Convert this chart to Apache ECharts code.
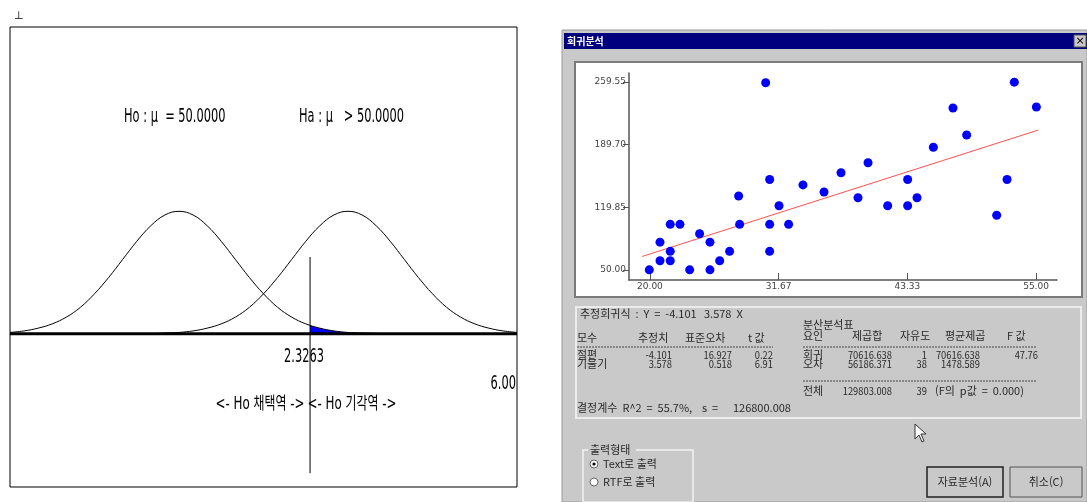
<!DOCTYPE html>
<html lang="ko">
<head>
<meta charset="UTF-8">
<title>검정 및 회귀분석</title>
<script src="https://cdn.jsdelivr.net/npm/echarts@6/dist/echarts.min.js"></script>
<style>
  html, body { margin: 0; padding: 0; background: #fff; }
  #main { width: 1087px; height: 502px; }
</style>
</head>
<body>
<div id="main"></div>
<script type="text/javascript">
    // 왼쪽: 가설검정 분포곡선 (z 값, 밀도)
    var zVals = [-3, -2.75, -2.5, -2.25, -2, -1.75, -1.5, -1.25, -1, -0.75, -0.5, -0.25,
                 0, 0.25, 0.5, 0.75, 1, 1.25, 1.5, 1.75, 2, 2.25, 2.5, 2.75,
                 3, 3.25, 3.5, 3.75, 4, 4.25, 4.5, 4.75, 5, 5.25, 5.5, 5.75, 6];
    var h0Dens = [0.004, 0.009, 0.018, 0.032, 0.054, 0.086, 0.130, 0.183, 0.242, 0.301, 0.352, 0.387,
                  0.399, 0.387, 0.352, 0.301, 0.242, 0.183, 0.130, 0.086, 0.054, 0.032, 0.018, 0.009,
                  0.004, 0.002, 0.001, 0, 0, 0, 0, 0, 0, 0, 0, 0, 0];
    var haDens = [0, 0, 0, 0, 0, 0, 0, 0, 0, 0, 0, 0.002,
                  0.004, 0.009, 0.018, 0.032, 0.054, 0.086, 0.130, 0.183, 0.242, 0.301, 0.352, 0.387,
                  0.399, 0.387, 0.352, 0.301, 0.242, 0.183, 0.130, 0.086, 0.054, 0.032, 0.018, 0.009, 0.004];
    var critZ = 2.3263;
    var rejZ = [2.3263, 2.5, 2.75, 3, 3.25];      // 기각역 (파란 영역)
    var rejDens = [0.027, 0.018, 0.009, 0.004, 0.002];
    var critLineY = [-0.455, 0.25];

    // 오른쪽: 회귀분석 산점도
    var xVals = [19.94, 20.91, 20.91, 21.84, 21.84, 21.84, 22.72, 23.60, 24.50, 25.44,
                 25.44, 26.32, 27.22, 28.04, 28.13, 30.49, 30.85, 30.85, 30.85, 31.70,
                 32.57, 33.87, 35.78, 37.32, 38.86, 39.77, 41.55, 43.36, 43.36, 44.21,
                 45.69, 47.47, 48.71, 51.43, 52.37, 53.03, 55.03];
    var yVals = [50.0, 80.9, 60.2, 100.8, 70.7, 60.2, 100.8, 50.0, 90.3, 80.9,
                 50.0, 60.2, 70.7, 132.4, 100.8, 258.8, 150.8, 100.8, 70.7, 121.5,
                 100.8, 144.8, 136.9, 158.4, 130.5, 169.6, 121.5, 150.8, 121.5, 130.5,
                 186.9, 230.6, 200.5, 111.0, 150.8, 259.5, 231.7];
    var regX = [19.3, 55.2];
    var regY = [65.0, 206.0];
    var xTicks = [20, 31.67, 43.33, 55];
    var yTicks = [50, 119.85, 189.70, 259.55];

    var h0Data = [], haData = [], rejData = [], scatData = [], regData = [];
    for (var i = 0; i < zVals.length; i++) {
        h0Data.push([zVals[i], h0Dens[i]]);
        haData.push([zVals[i], haDens[i]]);
    }
    for (var i = 0; i < rejZ.length; i++) rejData.push([rejZ[i], rejDens[i]]);
    for (var i = 0; i < xVals.length; i++) scatData.push([xVals[i], yVals[i]]);
    for (var i = 0; i < regX.length; i++) regData.push([regX[i], regY[i]]);

    var kr = '"Noto Sans CJK KR", "DejaVu Sans", sans-serif';
    var gray = '#c9c9c9';

    function txt(x, y, s, opt) {
        opt = opt || {};
        return {
            type: 'text', x: x, y: y, z: opt.z || 5,
            scaleX: opt.sx || 1,
            style: {
                text: s,
                fill: opt.color || '#2a2a2a',
                font: (opt.weight || 'normal') + ' ' + (opt.size || 11) + 'px ' + (opt.family || kr),
                align: opt.align || 'left',
                verticalAlign: 'middle'
            }
        };
    }
    // 표 안의 숫자 (오른쪽 정렬, 좁게)
    function num(x, y, s) {
        return txt(x, y, s, { align: 'right', size: 11, sx: 0.85 });
    }
    function dash(x1, x2, y) {
        return {
            type: 'line', z: 5,
            shape: { x1: x1, y1: y, x2: x2, y2: y },
            style: { stroke: '#444', lineWidth: 1, lineDash: [2, 1] }
        };
    }
    // 왼쪽 패널의 좁은 글꼴 흉내
    function big(x, y, s, align, size, sx) {
        return txt(x, y, s, { size: size, color: '#000', family: '"DejaVu Sans", "Noto Sans CJK KR", sans-serif',
                              align: align, sx: sx });
    }

    var graphics = [
        // 다이얼로그 바탕
        { type: 'rect', z: -10, shape: { x: 562, y: 30, width: 525, height: 472 },
          style: { fill: gray, stroke: '#9a9a9a', lineWidth: 1 } },
        { type: 'rect', z: -9, shape: { x: 564, y: 33, width: 523, height: 16 },
          style: { fill: '#00007e' } },
        txt(567, 41, '회귀분석', { color: '#fff', size: 10, weight: 'bold' }),
        { type: 'rect', z: 4, shape: { x: 1074, y: 35, width: 12, height: 12 },
          style: { fill: gray, stroke: '#555', lineWidth: 1 } },
        txt(1080, 41, '×', { color: '#000', size: 11, align: 'center', family: 'DejaVu Sans' }),
        { type: 'rect', z: -8, shape: { x: 575, y: 62, width: 507, height: 235 },
          style: { fill: '#fff', stroke: '#7a7a7a', lineWidth: 2 } },
        { type: 'rect', z: -8, shape: { x: 576, y: 307, width: 505, height: 111 },
          style: { fill: 'none', stroke: '#ececec', lineWidth: 2 } },

        // 추정회귀식 표
        txt(580, 314, '추정회귀식  :  Y  =  -4.101   3.578  X'),
        txt(577, 338, '모수'), txt(638, 338, '추정치'), txt(685, 338, '표준오차'), txt(748, 338, 't 값'),
        dash(577, 773, 347),
        txt(577, 355, '절편'), num(672, 355, '-4.101'), num(732, 355, '16.927'), num(773, 355, '0.22'),
        txt(577, 364, '기울기'), num(672, 364, '3.578'), num(732, 364, '0.518'), num(773, 364, '6.91'),
        txt(577, 408, '결정계수  R^2  =  55.7%,    s  =      126800.008'),

        // 분산분석표
        txt(803, 325, '분산분석표'),
        txt(803, 336, '요인'), txt(852, 336, '제곱합'), txt(900, 336, '자유도'),
        txt(945, 336, '평균제곱'), txt(1007, 336, 'F 값'),
        dash(803, 1036, 347),
        txt(803, 355, '회귀'), num(892, 355, '70616.638'), num(927, 355, '1'),
        num(980, 355, '70616.638'), num(1038, 355, '47.76'),
        txt(803, 364, '오차'), num(892, 364, '56186.371'), num(927, 364, '38'),
        num(980, 364, '1478.589'),
        dash(803, 1036, 381),
        txt(803, 391, '전체'), num(892, 391, '129803.008'), num(927, 391, '39'),
        txt(935, 391, '(F의  p값  =  0.000)'),

        // 출력형태
        { type: 'rect', z: 3, shape: { x: 583, y: 450, width: 110, height: 52 },
          style: { fill: 'none', stroke: '#f2f2f2', lineWidth: 1.5 } },
        { type: 'rect', z: 4, shape: { x: 588, y: 443, width: 48, height: 13 },
          style: { fill: gray } },
        txt(590, 450, '출력형태'),
        { type: 'circle', z: 5, shape: { cx: 594, cy: 464, r: 4 },
          style: { fill: '#fff', stroke: '#666', lineWidth: 1 } },
        { type: 'circle', z: 6, shape: { cx: 594, cy: 464, r: 1.6 }, style: { fill: '#000' } },
        txt(603, 464, 'Text로 출력'),
        { type: 'circle', z: 5, shape: { cx: 594, cy: 482, r: 4 },
          style: { fill: '#fff', stroke: '#666', lineWidth: 1 } },
        txt(603, 482, 'RTF로 출력'),

        // 버튼
        { type: 'rect', z: 4, shape: { x: 927, y: 467, width: 76, height: 30 },
          style: { fill: gray, stroke: '#222', lineWidth: 1.5 } },
        txt(965, 482, '자료분석(A)', { align: 'center' }),
        { type: 'rect', z: 4, shape: { x: 1010, y: 467, width: 72, height: 30 },
          style: { fill: gray, stroke: '#555', lineWidth: 1 } },
        txt(1046, 482, '취소(C)', { align: 'center' }),

        // 마우스 커서
        { type: 'polygon', z: 8,
          shape: { points: [[915, 424], [915, 439], [919, 435], [922, 442], [924, 441], [921, 434], [926, 434]] },
          style: { fill: '#fff', stroke: '#333', lineWidth: 1 } },

        // 왼쪽 패널 글자
        txt(14, 16, '⊥', { size: 11, color: '#000', family: 'DejaVu Sans' }),
        big(124, 117, 'Ho : μ  = 50.0000', 'left', 19, 0.6),
        big(299, 117, 'Ha : μ   > 50.0000', 'left', 19, 0.6),
        big(304, 357, '2.3263', 'center', 19, 0.6),
        big(516, 384, '6.00', 'right', 19, 0.6),
        big(260, 405, '<- Ho 채택역 ->', 'center', 17, 0.7),
        big(352, 405, '<- Ho 기각역 ->', 'center', 17, 0.7)
    ];

    var myChart = echarts.init(document.getElementById('main'));
    myChart.setOption({
        animation: false,
        backgroundColor: '#fff',
        graphic: graphics,
        grid: [
            { left: 10, top: 27, width: 507, height: 460, show: true,
              backgroundColor: '#fff', borderColor: '#000', borderWidth: 1 },
            { left: 629, top: 73, width: 428, height: 207, show: false }
        ],
        xAxis: [
            { gridIndex: 0, type: 'value', min: -3, max: 6, show: false },
            { gridIndex: 1, type: 'value', min: 18.1, max: 56.9,
              axisLine: { lineStyle: { color: '#555', width: 1.5 } },
              axisTick: { show: true, inside: true, length: 7, customValues: xTicks,
                          lineStyle: { color: '#555' } },
              axisLabel: { customValues: xTicks, margin: 2, fontSize: 9, color: '#444',
                           fontFamily: 'DejaVu Sans',
                           formatter: function (v) { return v.toFixed(2); } },
              splitLine: { show: false } }
        ],
        yAxis: [
            { gridIndex: 0, type: 'value', min: -0.5, max: 1, show: false },
            { gridIndex: 1, type: 'value', min: 38.7, max: 269.7,
              axisLine: { show: true, lineStyle: { color: '#555', width: 1.5 } },
              axisTick: { show: true, length: 6, customValues: yTicks,
                          lineStyle: { color: '#555' } },
              axisLabel: { customValues: yTicks, margin: 3, fontSize: 9, color: '#444',
                           fontFamily: 'DejaVu Sans',
                           formatter: function (v) { return v.toFixed(2); } },
              splitLine: { show: false } }
        ],
        series: [
            { name: 'baseline', type: 'line', xAxisIndex: 0, yAxisIndex: 0, symbol: 'none',
              data: [[zVals[0], 0], [zVals[zVals.length - 1], 0]],
              lineStyle: { color: '#000', width: 3 }, z: 3 },
            { name: 'rejection', type: 'line', xAxisIndex: 0, yAxisIndex: 0, symbol: 'none',
              smooth: true, data: rejData,
              lineStyle: { width: 0 }, areaStyle: { color: '#0000ff', opacity: 1 }, z: 2 },
            { name: 'H0', type: 'line', xAxisIndex: 0, yAxisIndex: 0, symbol: 'none',
              smooth: 0.4, data: h0Data, lineStyle: { color: '#000', width: 1 }, z: 4 },
            { name: 'Ha', type: 'line', xAxisIndex: 0, yAxisIndex: 0, symbol: 'none',
              smooth: 0.4, data: haData, lineStyle: { color: '#000', width: 1 }, z: 4 },
            { name: 'critical', type: 'line', xAxisIndex: 0, yAxisIndex: 0, symbol: 'none',
              data: [[critZ, critLineY[0]], [critZ, critLineY[1]]],
              lineStyle: { color: '#000', width: 1 }, z: 5 },
            { name: 'data', type: 'scatter', xAxisIndex: 1, yAxisIndex: 1,
              symbolSize: 9, data: scatData, itemStyle: { color: '#0000ff', opacity: 1 }, z: 4 },
            { name: 'reg', type: 'line', xAxisIndex: 1, yAxisIndex: 1, symbol: 'none',
              data: regData, lineStyle: { color: '#ff5050', width: 1 }, z: 3 }
        ]
    });
</script>
</body>
</html>
